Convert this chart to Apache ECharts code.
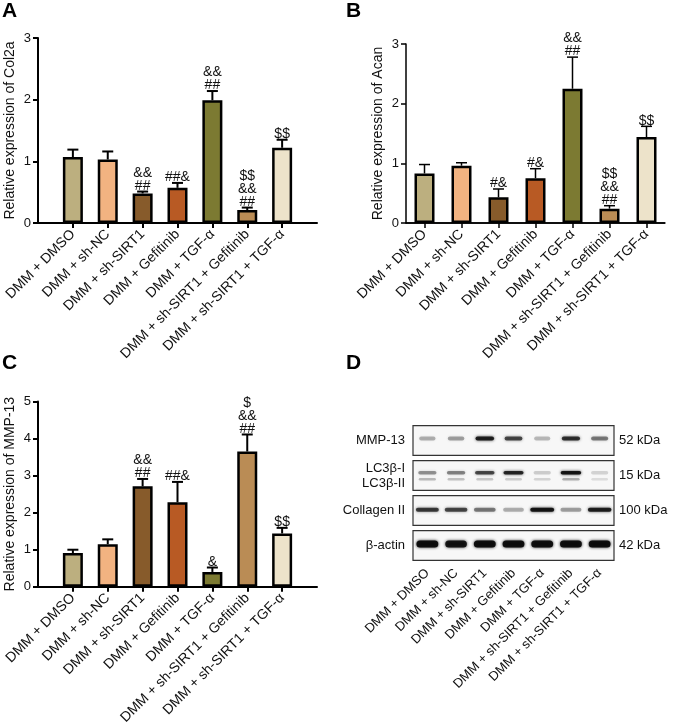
<!DOCTYPE html>
<html><head><meta charset="utf-8">
<script src="https://cdn.jsdelivr.net/npm/echarts@6/dist/echarts.min.js"></script>
<style>html,body{margin:0;padding:0;background:#fff}#c{width:673px;height:727px}</style>
</head><body><div id="c"></div>
<script>
const categories = ['DMM + DMSO', 'DMM + sh-NC', 'DMM + sh-SIRT1', 'DMM + Gefitinib', 'DMM + TGF-α', 'DMM + sh-SIRT1 + Gefitinib', 'DMM + sh-SIRT1 + TGF-α'];
const barColors = ['#BCAF7F', '#F2B381', '#875B2B', '#B85A24', '#7C7A32', '#BA8C55', '#EDE3CA'];

const col2aMean = [1.07, 1.03, 0.48, 0.57, 1.99, 0.21, 1.22];
const col2aErrTop = [1.19, 1.16, 0.51, 0.65, 2.14, 0.25, 1.35];
const col2aSig = ['', '', '&&\n##', '##&', '&&\n##', '$$\n&&\n##', '$$'];
const col2aTicks = [0, 1, 2, 3];

const acanMean = [0.83, 0.96, 0.43, 0.75, 2.25, 0.24, 1.44];
const acanErrTop = [0.98, 1.01, 0.57, 0.91, 2.78, 0.29, 1.62];
const acanSig = ['', '', '#&', '#&', '&&\n##', '$$\n&&\n##', '$$'];
const acanTicks = [0, 1, 2, 3];

const mmp13Mean = [0.91, 1.15, 2.71, 2.28, 0.40, 3.65, 1.44];
const mmp13ErrTop = [1.00, 1.28, 2.91, 2.83, 0.52, 4.11, 1.59];
const mmp13Sig = ['', '', '&&\n##', '##&', '&', '$\n&&\n##', '$$'];
const mmp13Ticks = [0, 1, 2, 3, 4, 5];

const blotNames = ['MMP-13', 'LC3β-I\nLC3β-II', 'Collagen II', 'β-actin'];
const blotSizes = ['52 kDa', '15 kDa', '100 kDa', '42 kDa'];
const bandMMP13 = [0.30, 0.35, 0.90, 0.70, 0.25, 0.80, 0.50];
const bandLC3I = [0.40, 0.45, 0.70, 0.85, 0.18, 0.95, 0.15];
const bandLC3II = [0.25, 0.22, 0.20, 0.18, 0.15, 0.30, 0.12];
const bandCol2 = [0.75, 0.70, 0.50, 0.30, 0.95, 0.35, 0.88];
const bandActin = [1.00, 0.95, 1.00, 1.00, 1.00, 1.00, 1.00];

const FONT = 'Arial, "Liberation Sans", Helvetica, sans-serif';
const TXT = '#111';
// panels A and C: GraphPad-style wider end gaps -> one blank slot at each end of the category axis
const paddedCategories = [''].concat(categories, ['']);

function errRender(lw, cap) {
  return function (params, api) {
    const i = api.value(0);
    const p0 = api.coord([i, api.value(1)]);
    const p1 = api.coord([i, api.value(2)]);
    const st = { stroke: '#000', lineWidth: lw };
    return {
      type: 'group', children: [
        { type: 'line', shape: { x1: p0[0], y1: p0[1], x2: p1[0], y2: p1[1] }, style: st },
        { type: 'line', shape: { x1: p1[0] - cap / 2, y1: p1[1], x2: p1[0] + cap / 2, y2: p1[1] }, style: st }
      ]
    };
  };
}
function sigRender(sig) {
  return function (params, api) {
    const p = api.coord([api.value(0), api.value(1)]);
    return {
      type: 'text', x: p[0], y: p[1] + 1,
      style: { text: sig[params.dataIndex], align: 'center', verticalAlign: 'bottom', fontSize: 14, lineHeight: 13, fontFamily: FONT, fill: TXT }
    };
  };
}

function yAxisDef(gi, ticks, name, lw) {
  return {
    gridIndex: gi, type: 'value', min: ticks[0], max: ticks[ticks.length - 1], interval: 1,
    name: name, nameLocation: 'middle', nameGap: 21,
    nameTextStyle: { fontSize: 14, fontFamily: FONT, color: TXT },
    axisLine: { show: true, lineStyle: { color: '#000', width: lw } },
    axisTick: { show: true, length: 5, lineStyle: { color: '#000', width: lw } },
    axisLabel: { fontSize: 13, fontFamily: FONT, color: TXT, margin: 7 },
    splitLine: { show: false }
  };
}
function xCatAxis(gi, data, boundaryGap, lw) {
  return {
    gridIndex: gi, type: 'category', data: data, boundaryGap: boundaryGap,
    axisLine: { show: true, lineStyle: { color: '#000', width: lw } },
    axisTick: { show: true, alignWithLabel: true, length: 5, interval: (idx, val) => val !== '', lineStyle: { color: '#000', width: lw } },
    axisLabel: { interval: 0, rotate: 45, fontSize: 14, fontFamily: FONT, color: TXT, margin: 9 },
    splitLine: { show: false }
  };
}
function barSeries(xi, yi, mean, off, bw, axisLw) {
  return {
    type: 'bar', xAxisIndex: xi, yAxisIndex: yi, barWidth: 20,
    data: mean.map((v, i) => ({ value: [i + off, v], itemStyle: { color: barColors[i] } })),
    itemStyle: { borderColor: '#000', borderWidth: bw }, silent: true, z: 2,
    // baseline at y = 0 (backs up the category axis line)
    markLine: {
      silent: true, symbol: ['none', 'none'], label: { show: false }, animation: false,
      lineStyle: { color: '#000', width: axisLw, type: 'solid' },
      data: [{ yAxis: 0 }]
    }
  };
}
function errSeries(xi, yi, mean, top, off, lw) {
  return {
    type: 'custom', xAxisIndex: xi, yAxisIndex: yi, renderItem: errRender(lw, 11),
    data: mean.map((v, i) => [i + off, v, top[i]]), encode: { x: 0, y: [1, 2] }, z: 3, silent: true
  };
}
function sigSeries(xi, yi, top, sig, off) {
  return {
    type: 'custom', xAxisIndex: xi, yAxisIndex: yi, renderItem: sigRender(sig),
    data: top.map((v, i) => [i + off, v]), encode: { x: 0, y: 1 }, z: 4, silent: true
  };
}

// Blot rows: which blot box, vertical offset (fraction of box pitch), band width (fraction of lane), band height
const bandRows = [
  { data: bandMMP13, blot: 0, dy: -0.06, w: 0.66, h: 4 },
  { data: bandLC3I, blot: 1, dy: -0.08, w: 0.72, h: 3.5 },
  { data: bandLC3II, blot: 1, dy: 0.11, w: 0.70, h: 2.5 },
  { data: bandCol2, blot: 2, dy: -0.02, w: 0.84, h: 4 },
  { data: bandActin, blot: 3, dy: -0.04, w: 0.76, h: 7 }
];
function bandRender(row) {
  return function (params, api) {
    const lane = api.value(0), k = api.value(1);
    const c = api.coord([lane, row.blot]);
    const sz = api.size([1, 1]);
    const w = sz[0] * row.w * (0.8 + 0.2 * k);
    const cy = c[1] + row.dy * sz[1];
    const col = 'rgba(10,10,10,' + (0.95 * k).toFixed(2) + ')';
    return {
      type: 'rect', shape: { x: c[0] - w / 2, y: cy - row.h / 2, width: w, height: row.h, r: row.h / 2 },
      style: { fill: col, shadowBlur: 3, shadowColor: col }
    };
  };
}
function boxRender(params, api) {
  const c = api.coord([0, api.value(1)]);
  const sz = api.size([1, 1]);
  const cs = params.coordSys;
  const h = sz[1] * 0.85;
  return {
    type: 'rect', shape: { x: cs.x, y: c[1] - h / 2, width: cs.width, height: h },
    style: { fill: '#f7f7f7', stroke: '#333', lineWidth: 1.2 }
  };
}

const series = [
  barSeries(0, 0, col2aMean, 1, 2.5, 2), errSeries(0, 0, col2aMean, col2aErrTop, 1, 2), sigSeries(0, 0, col2aErrTop, col2aSig, 1),
  barSeries(1, 1, acanMean, 0, 2.5, 1.5), errSeries(1, 1, acanMean, acanErrTop, 0, 1.5), sigSeries(1, 1, acanErrTop, acanSig, 0),
  barSeries(2, 2, mmp13Mean, 1, 2.5, 2), errSeries(2, 2, mmp13Mean, mmp13ErrTop, 1, 2), sigSeries(2, 2, mmp13ErrTop, mmp13Sig, 1),
  { type: 'custom', xAxisIndex: 3, yAxisIndex: 3, renderItem: boxRender, data: blotNames.map((n, i) => [0, i]), encode: { x: 0, y: 1 }, z: 1, silent: true, clip: false }
];
bandRows.forEach(row => {
  series.push({ type: 'custom', xAxisIndex: 3, yAxisIndex: 3, renderItem: bandRender(row), data: row.data.map((v, i) => [i, v]), encode: { x: 0 }, z: 2, silent: true, clip: false });
});

const option = {
  animation: false,
  backgroundColor: '#fff',
  textStyle: { fontFamily: FONT },
  title: [
    { text: 'A', left: 2, top: 1 }, { text: 'B', left: 346, top: 1 },
    { text: 'C', left: 2, top: 353 }, { text: 'D', left: 346, top: 353 }
  ].map(t => Object.assign(t, { padding: 0, textStyle: { fontSize: 21, fontWeight: 'bold', color: '#000', fontFamily: FONT } })),
  grid: [
    { left: 38, right: 356, top: 38, bottom: 504 },
    { left: 406, right: 8, top: 44, bottom: 504 },
    { left: 38, right: 356, top: 401.5, bottom: 139.5 },
    { left: 413, right: 59, top: 423, bottom: 164 }
  ],
  xAxis: [
    xCatAxis(0, paddedCategories, false, 2),
    xCatAxis(1, categories, true, 1.5),
    xCatAxis(2, paddedCategories, false, 2),
    {
      gridIndex: 3, type: 'category', data: categories,
      axisLine: { show: false }, axisTick: { show: false },
      axisLabel: { interval: 0, rotate: 45, fontSize: 13, fontFamily: FONT, color: TXT, margin: 8 }
    }
  ],
  yAxis: [
    yAxisDef(0, col2aTicks, 'Relative expression of Col2a', 2),
    yAxisDef(1, acanTicks, 'Relative expression of Acan', 1.5),
    yAxisDef(2, mmp13Ticks, 'Relative expression of MMP-13', 2),
    {
      gridIndex: 3, type: 'category', data: blotNames, inverse: true,
      axisLine: { show: false }, axisTick: { show: false },
      axisLabel: { fontSize: 13, fontFamily: FONT, color: TXT, margin: 8, lineHeight: 15 }
    },
    {
      gridIndex: 3, type: 'category', data: blotSizes, inverse: true, position: 'right',
      axisLine: { show: false }, axisTick: { show: false },
      axisLabel: { fontSize: 13, fontFamily: FONT, color: TXT, margin: 5 }
    }
  ],
  series: series
};
const chart = echarts.init(document.getElementById('c'), null, { renderer: 'canvas' });
chart.setOption(option);
</script>
</body></html>
